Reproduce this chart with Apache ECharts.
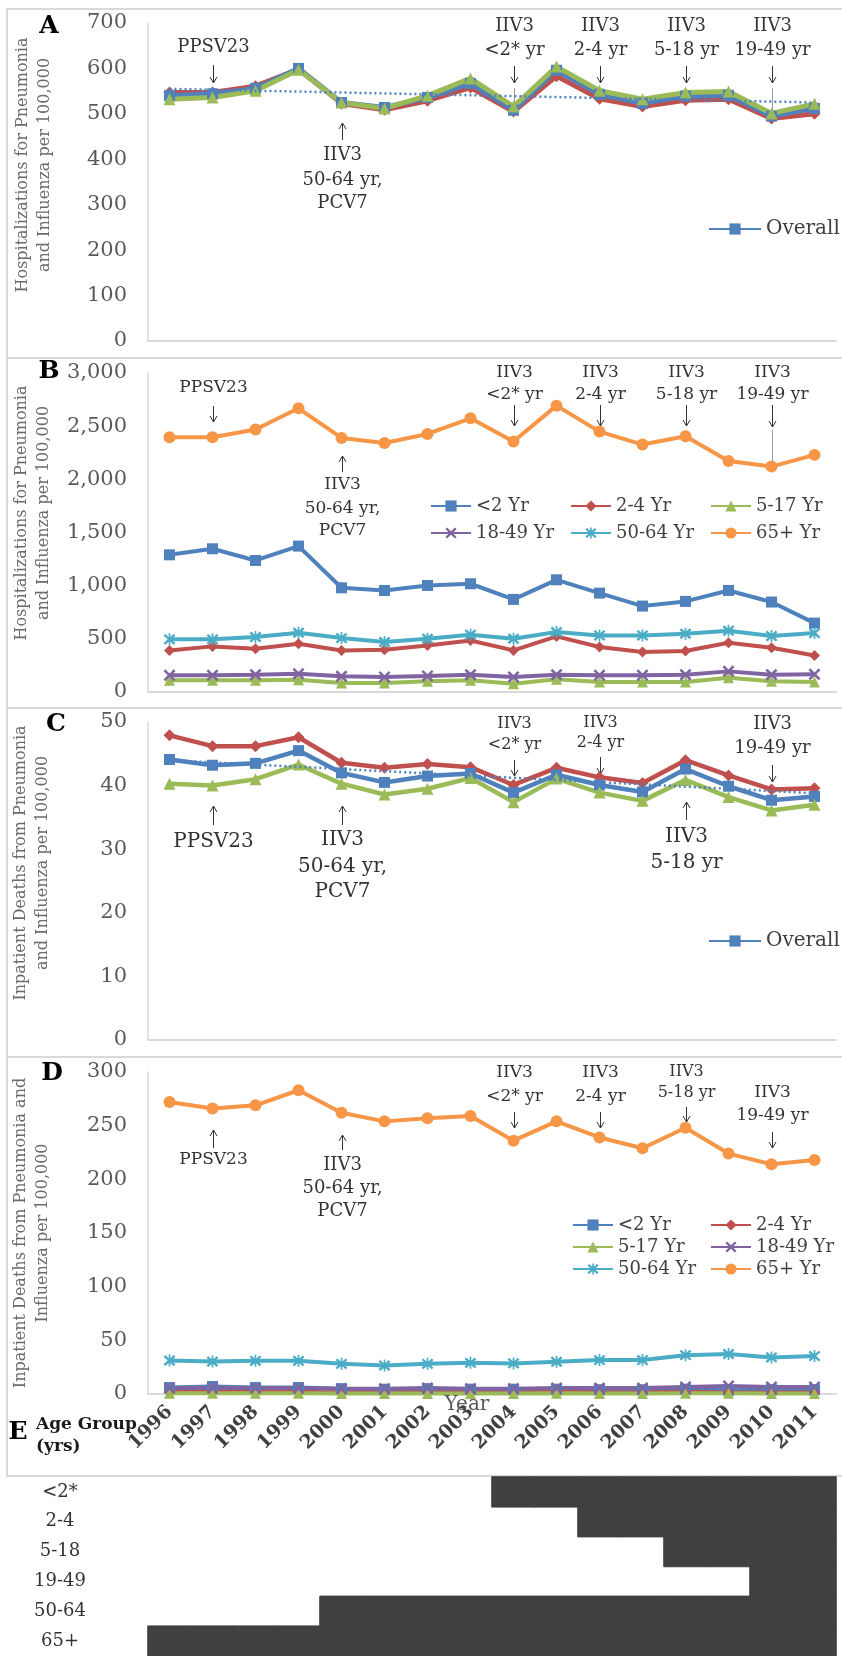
<!DOCTYPE html>
<html><head><meta charset="utf-8">
<script src="https://cdn.jsdelivr.net/npm/echarts@6/dist/echarts.min.js"></script>
<style>html,body{margin:0;padding:0;background:#fff}#c{width:842px;height:1656px}</style>
</head><body><div id="c"></div>
<script>
// ---------- DATA ----------
const years = ['1996','1997','1998','1999','2000','2001','2002','2003','2004','2005','2006','2007','2008','2009','2010','2011'];

// Panel A: hospitalizations per 100,000
const aOverall = [540, 544, 556, 600, 525, 514, 536, 567, 508, 596, 543, 523, 539, 541, 495, 512];
const aSeries2 = [547, 547, 561, 598, 523, 509, 529, 558, 505, 583, 533, 516, 530, 532, 490, 500];
const aSeries3 = [532, 536, 551, 597, 525, 512, 540, 578, 516, 604, 551, 532, 547, 549, 501, 522];
const aTrendEnds = [555, 525];

// Panel B: hospitalizations by age group
const bUnder2 = [1290, 1347, 1237, 1372, 980, 955, 1002, 1018, 871, 1055, 930, 808, 852, 955, 846, 648];
const b2to4   = [391, 429, 407, 454, 391, 398, 438, 485, 391, 523, 423, 376, 385, 463, 416, 344];
const b5to17  = [110, 110, 110, 116, 85, 85, 100, 110, 78, 119, 94, 94, 94, 135, 100, 94];
const b18to49 = [157, 157, 163, 172, 147, 141, 150, 163, 141, 163, 157, 157, 163, 194, 163, 166];
const b50to64 = [495, 495, 517, 557, 507, 470, 501, 539, 501, 564, 532, 532, 548, 576, 526, 554];
const b65plus = [2396, 2396, 2468, 2668, 2389, 2342, 2427, 2574, 2355, 2693, 2449, 2327, 2405, 2173, 2120, 2230];

// Panel C: inpatient deaths per 100,000
const cOverall = [44.1, 43.2, 43.5, 45.5, 42.0, 40.5, 41.5, 41.9, 38.9, 41.7, 40.1, 39.0, 42.6, 39.9, 37.7, 38.3];
const cSeries2 = [47.9, 46.2, 46.2, 47.6, 43.6, 42.8, 43.4, 42.9, 40.1, 42.8, 41.3, 40.4, 44.0, 41.6, 39.4, 39.6];
const cSeries3 = [40.3, 40.0, 41.0, 43.3, 40.3, 38.6, 39.5, 41.2, 37.4, 41.1, 38.9, 37.6, 40.9, 38.2, 36.1, 37.0];
const cTrendEnds = [44.0, 38.8];

// Panel D: inpatient deaths by age group
const dUnder2 = [6, 7, 6, 6, 5, 4.5, 5, 4.5, 4.5, 4.5, 4, 4, 4.5, 3.5, 4, 4];
const d2to4   = [2, 2, 2, 2, 1.5, 1.5, 1.5, 1.5, 1.5, 2, 1.5, 1.5, 2, 1.5, 1.5, 1.5];
const d5to17  = [0.6, 0.6, 0.6, 0.6, 0.5, 0.5, 0.5, 0.5, 0.5, 0.6, 0.5, 0.5, 0.6, 0.6, 0.5, 0.5];
const d18to49 = [5.5, 5.5, 5.5, 5.5, 5, 5, 5.5, 5, 5, 5.5, 5.5, 5.5, 6.5, 7.5, 6.5, 6.5];
const d50to64 = [31.2, 30.2, 30.9, 30.9, 28.1, 26.5, 28.1, 29.0, 28.5, 30.0, 31.6, 31.6, 36.2, 37.2, 34.1, 35.3];
const d65plus = [272, 266, 269, 283, 262, 254, 257, 259, 236, 254, 239, 229, 248, 224, 214, 218];

// Panel E: vaccine recommendation by age group (first year covered)
const ageGroups = ['<2*', '2-4', '5-18', '19-49', '50-64', '65+'];
const recommendStart = [2004, 2006, 2008, 2010, 2000, 1996];

// axis ranges
const aAxis = [0, 700, 100], bAxis = [0, 3000, 500], cAxis = [0, 50, 10], dAxis = [0, 300, 50];

// ---------- STYLE ----------
const FONT = 'DejaVu Serif';
const C_BLUE = '#4F81BD', C_RED = '#C0504D', C_GREEN = '#9BBB59', C_PURPLE = '#8064A2', C_CYAN = '#4BACC6', C_ORANGE = '#F79646';
const SYM_X = 'path://M0,1.5L1.5,0L5,3.5L8.5,0L10,1.5L6.5,5L10,8.5L8.5,10L5,6.5L1.5,10L0,8.5L3.5,5Z';
const SYM_STAR = 'path://M0,1.5L1.5,0L5,3.5L8.5,0L10,1.5L6.5,5L10,8.5L8.5,10L5,6.5L1.5,10L0,8.5L3.5,5Z M4.3,-0.5L5.7,-0.5L5.7,10.5L4.3,10.5Z';

const chart = echarts.init(document.getElementById('c'));

const grids = [
  {left:148, top:23, width:688, height:318},
  {left:148, top:373, width:688, height:319},
  {left:148, top:722, width:688, height:318},
  {left:148, top:1072, width:688, height:322},
  {left:148, top:1477, width:688, height:182}
];

const xAxes = grids.map((g, i) => ({
  type:'category', gridIndex:i, data:years, boundaryGap:true,
  axisLine:{show:i < 4, lineStyle:{color:'#D9D9D9', width:2}},
  axisTick:{show:false}, splitLine:{show:false},
  axisLabel:{show:i === 3, interval:0, rotate:45, margin:15, fontFamily:FONT, fontWeight:'bold', fontSize:19, color:'#404040'},
  show:i < 4
}));

function valAxis(i, rng, fmt) {
  return {type:'value', gridIndex:i, min:rng[0], max:rng[1], interval:rng[2],
    axisLine:{show:true, lineStyle:{color:'#D9D9D9', width:1.5}}, axisTick:{show:false}, splitLine:{show:false},
    axisLabel:{margin:21, fontFamily:FONT, fontSize:21, color:'#595959', formatter:fmt}};
}
const comma = v => v.toLocaleString('en-US');
const yAxes = [
  valAxis(0, aAxis), valAxis(1, bAxis, comma), valAxis(2, cAxis), valAxis(3, dAxis),
  {type:'category', gridIndex:4, data:ageGroups, inverse:true, axisLine:{show:false}, axisTick:{show:false},
   axisLabel:{margin:88, align:'center', fontFamily:FONT, fontSize:18, color:'#333'}}
];

function ln(name, data, color, symbol, g, size, width) {
  return {type:'line', name, data, xAxisIndex:g, yAxisIndex:g, symbol, symbolSize:size, showAllSymbol:true,
    lineStyle:{color, width}, itemStyle:{color}, emphasis:{disabled:true}, silent:true};
}
function trend(name, ends, g) {
  const d = years.map((y, i) => i === 0 ? ends[0] : (i === years.length - 1 ? ends[1] : null));
  return {type:'line', name, data:d, connectNulls:true, xAxisIndex:g, yAxisIndex:g, symbol:'none',
    lineStyle:{color:C_BLUE, width:2.5, type:[2, 3]}, emphasis:{disabled:true}, silent:true, z:5};
}

const heatData = [];
ageGroups.forEach((grp, r) => years.forEach((y, c) => { if (+y >= recommendStart[r]) heatData.push([c, r, 1]); }));

const series = [
  ln('Series 2', aSeries2, C_RED, 'diamond', 0, 12, 5),
  ln('Overall', aOverall, C_BLUE, 'rect', 0, 11, 5),
  ln('Series 3', aSeries3, C_GREEN, 'triangle', 0, 12, 5),
  trend('Linear (Overall)', aTrendEnds, 0),

  ln('<2 Yr', bUnder2, C_BLUE, 'rect', 1, 11, 4),
  ln('2-4 Yr', b2to4, C_RED, 'diamond', 1, 11, 4),
  ln('5-17 Yr', b5to17, C_GREEN, 'triangle', 1, 11, 4),
  ln('18-49 Yr', b18to49, C_PURPLE, SYM_X, 1, 12, 4),
  ln('50-64 Yr', b50to64, C_CYAN, SYM_STAR, 1, 12, 4),
  ln('65+ Yr', b65plus, C_ORANGE, 'circle', 1, 12, 4),

  ln('Series 2 ', cSeries2, C_RED, 'diamond', 2, 12, 4.5),
  ln('Overall', cOverall, C_BLUE, 'rect', 2, 11, 4.5),
  ln('Series 3 ', cSeries3, C_GREEN, 'triangle', 2, 12, 4.5),
  trend('Linear (Overall) ', cTrendEnds, 2),

  ln('<2 Yr', dUnder2, C_BLUE, 'rect', 3, 11, 4),
  ln('2-4 Yr', d2to4, C_RED, 'diamond', 3, 11, 4),
  ln('5-17 Yr', d5to17, C_GREEN, 'triangle', 3, 11, 4),
  ln('18-49 Yr', d18to49, C_PURPLE, SYM_X, 3, 12, 4),
  ln('50-64 Yr', d50to64, C_CYAN, SYM_STAR, 3, 12, 4),
  ln('65+ Yr', d65plus, C_ORANGE, 'circle', 3, 12, 4),

  {type:'heatmap', name:'IIV3 recommended', xAxisIndex:4, yAxisIndex:4, data:heatData,
   itemStyle:{borderWidth:1, borderColor:'#404040'}, emphasis:{disabled:true}, silent:true}
];

const legendItems = [
  {name:'Overall', x:708, y:230, w:52, fs:20},
  {name:'Overall', x:708, y:942, w:52, fs:20},
  {name:'<2 Yr', x:430, y:508, w:40, fs:18},
  {name:'2-4 Yr', x:570, y:508, w:40, fs:18},
  {name:'5-17 Yr', x:710, y:508, w:40, fs:18},
  {name:'18-49 Yr', x:430, y:535, w:40, fs:18},
  {name:'50-64 Yr', x:570, y:535, w:40, fs:18},
  {name:'65+ Yr', x:710, y:535, w:40, fs:18},
  {name:'<2 Yr', x:572, y:1227, w:40, fs:18},
  {name:'2-4 Yr', x:710, y:1227, w:40, fs:18},
  {name:'5-17 Yr', x:572, y:1249, w:40, fs:18},
  {name:'18-49 Yr', x:710, y:1249, w:40, fs:18},
  {name:'50-64 Yr', x:572, y:1271, w:40, fs:18},
  {name:'65+ Yr', x:710, y:1271, w:40, fs:18}
];

const option = {
  animation:false,
  backgroundColor:'#fff',
  grid:grids,
  xAxis:xAxes,
  yAxis:yAxes,
  legend:legendItems.map(it => ({
    data:[it.name], left:it.x, top:it.y - 11, padding:0, itemWidth:it.w, itemHeight:14, itemGap:0,
    selectedMode:false, textStyle:{fontFamily:FONT, fontSize:it.fs, color:'#404040'}
  })),
  visualMap:{type:'piecewise', show:false, seriesIndex:series.length - 1, pieces:[{min:0.5, max:1.5, color:'#404040'}]},
  series
};
chart.setOption(option);

// ---------- ANNOTATIONS ----------
const notes = [
  {g:0, yr:'1997', t:['PPSV23'], fs:18, ty:[47], ar:[65,83,'down']},
  {g:0, yr:'2000', t:['IIV3','50-64 yr,','PCV7'], fs:18, ty:[155,180,203], ar:[123,140,'up']},
  {g:0, yr:'2004', t:['IIV3','<2* yr'], fs:18, ty:[26,50], ar:[66,83,'down'], ld:[88,110]},
  {g:0, yr:'2006', t:['IIV3','2-4 yr'], fs:18, ty:[26,50], ar:[66,83,'down']},
  {g:0, yr:'2008', t:['IIV3','5-18 yr'], fs:18, ty:[26,50], ar:[66,83,'down']},
  {g:0, yr:'2010', t:['IIV3','19-49 yr'], fs:18, ty:[26,50], ar:[66,83,'down'], ld:[88,115]},
  {g:1, yr:'1997', t:['PPSV23'], fs:17, ty:[388], ar:[406,422,'down']},
  {g:1, yr:'2000', t:['IIV3','50-64 yr,','PCV7'], fs:17, ty:[485,509,531], ar:[456,472,'up']},
  {g:1, yr:'2004', t:['IIV3','<2* yr'], fs:17, ty:[373,395], ar:[405,426,'down']},
  {g:1, yr:'2006', t:['IIV3','2-4 yr'], fs:17, ty:[373,395], ar:[405,426,'down']},
  {g:1, yr:'2008', t:['IIV3','5-18 yr'], fs:17, ty:[373,395], ar:[405,426,'down']},
  {g:1, yr:'2010', t:['IIV3','19-49 yr'], fs:17, ty:[373,395], ar:[405,427,'down'], ld:[430,467]},
  {g:2, yr:'1997', t:['PPSV23'], fs:20, ty:[842], ar:[806,825,'up']},
  {g:2, yr:'2000', t:['IIV3','50-64 yr,','PCV7'], fs:20, ty:[840,867,892], ar:[806,825,'up']},
  {g:2, yr:'2004', t:['IIV3','<2* yr'], fs:16, ty:[724,745], ar:[760,776,'down']},
  {g:2, yr:'2006', t:['IIV3','2-4 yr'], fs:16, ty:[723,743], ar:[757,774,'down']},
  {g:2, yr:'2008', t:['IIV3','5-18 yr'], fs:20, ty:[837,863], ar:[802,820,'up']},
  {g:2, yr:'2010', t:['IIV3','19-49 yr'], fs:18, ty:[724,748], ar:[765,782,'down']},
  {g:3, yr:'1997', t:['PPSV23'], fs:17, ty:[1160], ar:[1130,1148,'up']},
  {g:3, yr:'2000', t:['IIV3','50-64 yr,','PCV7'], fs:18, ty:[1165,1188,1211], ar:[1135,1150,'up']},
  {g:3, yr:'2004', t:['IIV3','<2* yr'], fs:17, ty:[1073,1097], ar:[1112,1128,'down']},
  {g:3, yr:'2006', t:['IIV3','2-4 yr'], fs:17, ty:[1073,1097], ar:[1112,1128,'down']},
  {g:3, yr:'2008', t:['IIV3','5-18 yr'], fs:16, ty:[1072,1093], ar:[1107,1122,'down']},
  {g:3, yr:'2010', t:['IIV3','19-49 yr'], fs:17, ty:[1093,1116], ar:[1132,1148,'down']}
];

const gfx = [];
// panel borders
[[9,349],[358,350],[708,349],[1057,419]].forEach(b => gfx.push({type:'rect', silent:true, z:-1,
  shape:{x:7, y:b[0], width:860, height:b[1]}, style:{fill:'none', stroke:'#D9D9D9', lineWidth:2}}));
// panel letters
[['A',49,26],['B',49,371],['C',56,724],['D',52,1073],['E',18,1432]].forEach(l => gfx.push({type:'text', silent:true,
  x:l[1], y:l[2], style:{text:l[0], fontFamily:FONT, fontWeight:'bold', fontSize:25, fill:'#000', align:'center', verticalAlign:'middle'}}));
// axis titles
[['Hospitalizations for Pneumonia\nand Influenza per 100,000',34,165],
 ['Hospitalizations for Pneumonia\nand Influenza per 100,000',33,513],
 ['Inpatient Deaths from Pneumonia\nand Influenza per 100,000',32,863],
 ['Inpatient Deaths from Pneumonia and\nInfluenza per 100,000',32,1233]].forEach(t => gfx.push({type:'text', silent:true,
  x:t[1], y:t[2], rotation:Math.PI/2, style:{text:t[0], fontFamily:FONT, fontSize:16, lineHeight:22, fill:'#6b6b6b', align:'center', verticalAlign:'middle'}}));
// x-axis title of panel D
gfx.push({type:'text', silent:true, x:467, y:1405, z:10, style:{text:'Year', fontFamily:FONT, fontSize:20, fill:'#595959', align:'center', verticalAlign:'middle'}});
// panel E header
gfx.push({type:'text', silent:true, x:36, y:1436, style:{text:'Age Group\n(yrs)', fontFamily:FONT, fontWeight:'bold', fontSize:17, lineHeight:22, fill:'#1a1a1a', align:'left', verticalAlign:'middle'}});

notes.forEach(n => {
  const x = Math.round(chart.convertToPixel({xAxisIndex:n.g}, n.yr)) + 0.5;
  n.t.forEach((s, i) => gfx.push({type:'text', silent:true, x, y:n.ty[i],
    style:{text:s, fontFamily:FONT, fontSize:n.fs, fill:'#333', align:'center', verticalAlign:'middle'}}));
  const [y1, y2, dir] = n.ar;
  gfx.push({type:'line', silent:true, shape:{x1:x, y1, x2:x, y2}, style:{stroke:'#333', lineWidth:1}});
  const hy = dir === 'down' ? y2 : y1, s = dir === 'down' ? -1 : 1;
  gfx.push({type:'polyline', silent:true, shape:{points:[[x - 3.5, hy + s * 6], [x, hy], [x + 3.5, hy + s * 6]]}, style:{stroke:'#333', lineWidth:1, fill:'none'}});
  if (n.ld) gfx.push({type:'line', silent:true, shape:{x1:x, y1:n.ld[0], x2:x, y2:n.ld[1]}, style:{stroke:'#9a9a9a', lineWidth:1}});
});
chart.setOption({graphic:gfx});
</script>
</body></html>
